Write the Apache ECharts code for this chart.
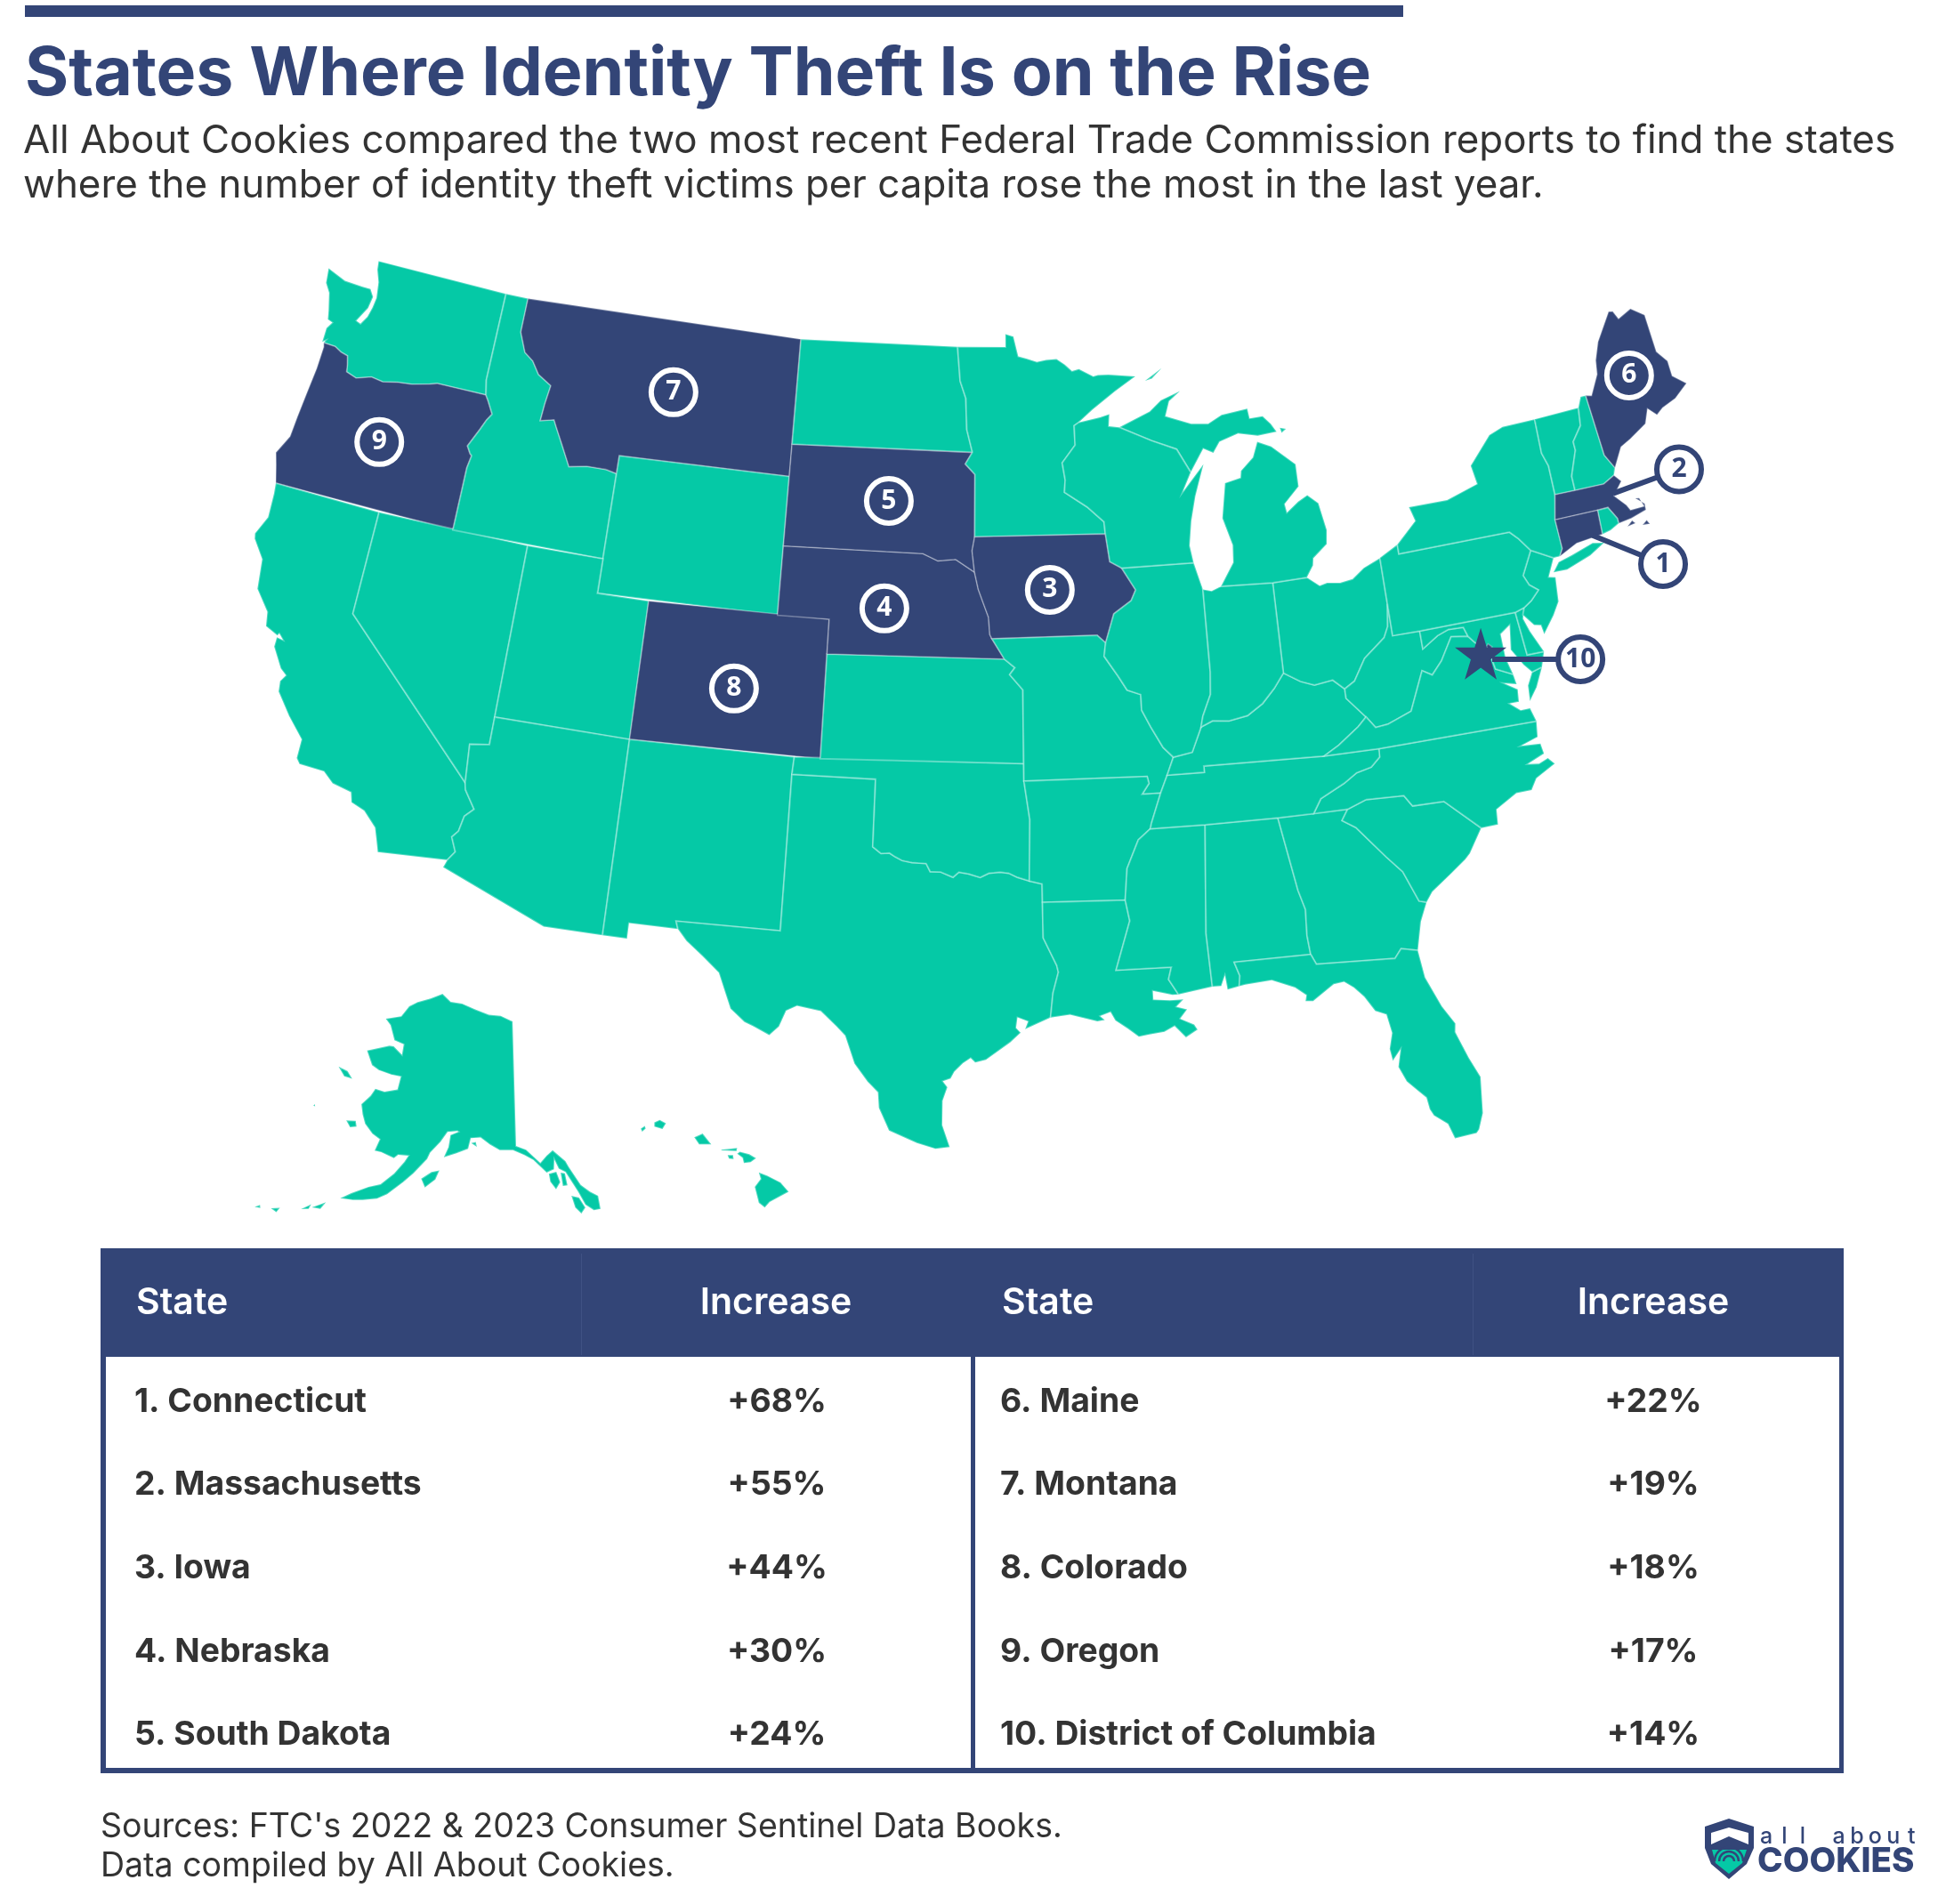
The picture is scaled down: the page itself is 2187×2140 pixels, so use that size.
<!DOCTYPE html>
<html lang="en">
<head>
<meta charset="utf-8">
<title>States Where Identity Theft Is on the Rise</title>
<script src="https://cdn.jsdelivr.net/npm/echarts@6/dist/echarts.min.js"></script>
<style>
html, body { margin: 0; padding: 0; background: #fff; }
#main { width: 2187px; height: 2140px; }
</style>
</head>
<body>
<div id="main"></div>
<script>
var NAVY = '#334577', TEAL = '#05c9a6', DARK = '#333333';

// table
var tableNames = ['Connecticut', 'Massachusetts', 'Iowa', 'Nebraska', 'South Dakota', 'Maine', 'Montana', 'Colorado', 'Oregon', 'District of Columbia'];
var tableIncrease = [68, 55, 44, 30, 24, 22, 19, 18, 17, 14];
var highlighted = ['Connecticut', 'Massachusetts', 'Iowa', 'Nebraska', 'South Dakota', 'Maine', 'Montana', 'Colorado', 'Oregon', 'District of Columbia'];

// numbered markers, [lon, lat, label]
var insideMarkers = [[-69.14, 45.52, '6'], [-109.22, 47.05, '7'], [-120.7, 43.95, '9'], [-99.94, 44.48, '5'], [-93.5, 41.96, '3'], [-99.94, 41.39, '4'], [-105.44, 38.8, '8']];
var outsideMarkers = [[-68.28, 42.52, '2'], [-69.9, 40.04, '1'], [-73.8, 38.0, '10']];
var leaderLines = [[[-68.28, 42.52], [-71.04, 42.37]], [[-69.9, 40.04], [-72.23, 41.36]], [[-73.8, 38.0], [-77.0, 38.54]]];
var dcStar = [-77.38, 38.76];

// shared borders, lon/lat
var colWaOr = [[-124.0, 46.27], [-123.5, 46.26], [-123.2, 46.15], [-122.9, 46.1], [-122.8, 45.85], [-122.75, 45.65], [-122.3, 45.55], [-121.7, 45.7], [-121.2, 45.65], [-120.6, 45.75], [-120.0, 45.8], [-119.3, 45.93], [-119.0, 46.0], [-116.92, 46.0]];
var snakeOrId = [[-116.92, 46.0], [-116.78, 45.85], [-116.5, 45.5], [-116.67, 45.3], [-116.85, 45.0], [-117.2, 44.45], [-117.03, 44.25], [-116.95, 44.2], [-117.03, 43.83], [-117.03, 42.0]];
var mtId = [[-116.05, 48.0], [-115.7, 47.45], [-115.3, 47.25], [-114.95, 46.9], [-114.35, 46.65], [-114.45, 46.1], [-114.5, 45.6], [-113.95, 45.7], [-113.8, 45.5], [-113.45, 45.05], [-113.0, 44.45], [-112.3, 44.55], [-111.5, 44.55], [-111.05, 44.48]];
var coloRiver = [[-114.63, 35.0], [-114.57, 34.8], [-114.14, 34.3], [-114.43, 34.05], [-114.53, 33.6], [-114.72, 33.4], [-114.5, 33.0], [-114.72, 32.72]];
var redRiver = [[-100, 34.56], [-99.7, 34.38], [-99.4, 34.4], [-99.2, 34.3], [-98.95, 34.2], [-98.6, 34.15], [-98.1, 34.13], [-97.95, 33.9], [-97.6, 33.9], [-97.15, 33.75], [-96.95, 33.9], [-96.6, 33.85], [-96.2, 33.75], [-95.9, 33.87], [-95.5, 33.9], [-95.2, 33.87], [-94.9, 33.75], [-94.48, 33.64]];
var sabine = [[-94.04, 32.0], [-93.6, 31.2], [-93.55, 31.0], [-93.75, 30.4], [-93.85, 29.7]];
var nebE = [[-96.45, 42.49], [-96.3, 42.0], [-96.1, 41.6], [-95.9, 41.2], [-95.85, 40.7], [-95.77, 40.58]];
var nebSd = [[-98.5, 43], [-97.9, 42.8], [-97.2, 42.85], [-96.45, 42.49]];
var sdMn = [[-96.56, 45.94], [-96.85, 45.6], [-96.45, 45.3], [-96.45, 43.5]];
var ndMn = [[-97.23, 49], [-97.1, 48.0], [-96.85, 47.5], [-96.8, 46.6], [-96.56, 45.94]];
var upperMiss = [[-91.22, 43.5], [-91.1, 42.7], [-90.65, 42.5]];
var ilIa = [[-90.65, 42.5], [-90.15, 41.85], [-90.35, 41.55], [-91.05, 41.2], [-91.42, 40.38]];
var ilMo = [[-91.42, 40.38], [-91.5, 40.0], [-91.0, 39.4], [-90.7, 39.0], [-90.2, 38.85], [-90.2, 38.4], [-89.9, 37.9], [-89.5, 37.3], [-89.15, 37.0]];
var ohioRiv = [[-82.6, 38.42], [-83.0, 38.72], [-83.7, 38.65], [-84.2, 38.8], [-84.8, 39.1], [-85.2, 38.7], [-85.7, 38.3], [-86.3, 38.0], [-87.0, 37.9], [-87.6, 37.95], [-88.05, 37.8], [-88.45, 37.1], [-89.15, 37.0]];
var ohWv = [[-80.52, 40.64], [-80.65, 40.0], [-80.85, 39.7], [-81.7, 39.2], [-82.2, 38.6], [-82.6, 38.42]];
var wvVa = [[-77.72, 39.32], [-78.35, 39.4], [-78.87, 38.77], [-79.3, 38.42], [-79.65, 38.59], [-80.3, 37.5], [-81.22, 37.24], [-81.68, 37.2], [-81.97, 37.54]];
var kyVa = [[-81.97, 37.54], [-82.3, 37.3], [-83.1, 36.85], [-83.68, 36.6]];
var kyWv = [[-81.97, 37.54], [-82.6, 38.15], [-82.6, 38.42]];
var mdWv = [[-79.48, 39.2], [-78.85, 39.5], [-78.4, 39.62], [-77.83, 39.6], [-77.72, 39.32]];
var potomac = [[-77.72, 39.32], [-77.5, 39.1], [-77.04, 38.85], [-77.04, 38.7], [-76.95, 38.25], [-76.35, 38.0]];
var tnNc = [[-84.32, 35], [-84, 35.4], [-83.1, 35.75], [-82.6, 36.0], [-82.05, 36.1], [-81.7, 36.35], [-81.68, 36.59]];
var gaSc = [[-83.1, 35], [-83.35, 34.7], [-82.9, 34.45], [-82.0, 33.5], [-81.5, 33.0], [-81.1, 32.1], [-80.85, 32.03]];
var ncSc = [[-83.1, 35], [-82.4, 35.2], [-81.05, 35.15], [-80.8, 34.82], [-79.68, 34.8], [-78.55, 33.86]];
var gaFlE = [[-84.85, 30.7], [-82.2, 30.57], [-81.95, 30.82], [-81.4, 30.7]];
var alGa = [[-85.6, 35], [-85.18, 32.87], [-85.0, 32.3], [-85.05, 31.55], [-85.0, 31.0]];
var msAl = [[-88.2, 35], [-88.47, 31.9], [-88.4, 30.35]];
var msLa = [[-91.6, 31.0], [-89.73, 31.0], [-89.85, 30.65], [-89.55, 30.2]];
var paNj = [[-74.7, 41.36], [-75.2, 40.7], [-75.05, 40.4], [-74.75, 40.2], [-75.1, 39.95], [-75.42, 39.8]];
var nyPa = [[-75.35, 42.0], [-75.05, 41.75], [-74.7, 41.36]];
var vtNh = [[-71.5, 45.01], [-71.6, 44.5], [-72.05, 44.1], [-72.05, 43.85], [-72.45, 43.15], [-72.46, 42.73]];
var nyVt = [[-73.35, 45], [-73.4, 44.0], [-73.25, 43.6], [-73.27, 42.75]];
var nhMe = [[-71.08, 45.3], [-70.98, 43.5], [-70.7, 43.07]];
var wiMi = [[-90.42, 46.55], [-89.1, 46.1], [-88.1, 45.8], [-87.6, 45.1]];
var mnWi = [[-92.3, 46.66], [-92.29, 46.1], [-92.85, 45.6], [-92.75, 45.1], [-92.8, 44.75], [-91.9, 44.3], [-91.25, 43.85], [-91.22, 43.5]];
var ilIn = [[-87.53, 41.72], [-87.53, 39.35], [-87.6, 38.7], [-87.95, 38.1], [-88.05, 37.8]];
var alaskaMain = [[-141, 69.65], [-141, 60.3], [-139.5, 60.0], [-137.5, 58.95], [-136.5, 59.45], [-135.5, 59.8], [-133.8, 58.9], [-133.4, 58.4], [-132.1, 57], [-131.0, 56.4], [-130.0, 56.0], [-130.0, 55.0], [-130.9, 55.0], [-131.9, 55.5], [-132.6, 56.5], [-134.0, 58.1], [-134.9, 58.4], [-135.4, 59.1], [-135.6, 58.4], [-136.7, 58.2], [-138.5, 59.2], [-139.8, 59.6], [-141.5, 60.0], [-143.5, 60.0], [-145, 60.4], [-146.5, 60.9], [-148, 60.8], [-148.3, 60.0], [-150, 59.6], [-151.8, 59.2], [-151.3, 60.0], [-151.2, 60.9], [-150, 61.2], [-150.2, 61.25], [-151.7, 61.1], [-152.6, 60.3], [-153.9, 59.4], [-154.2, 58.9], [-155.8, 57.7], [-157, 56.9], [-158.8, 55.8], [-160, 55.3], [-161.8, 54.95], [-163, 54.75], [-164.7, 54.6], [-163.5, 55.2], [-161.5, 56.0], [-160, 56.4], [-158.5, 57.4], [-157.4, 58.4], [-157, 58.9], [-158.5, 58.8], [-159, 58.5], [-161, 58.7], [-162, 58.7], [-161.7, 59.6], [-163, 59.85], [-164.5, 60.4], [-165.3, 61], [-166, 61.7], [-165, 62.5], [-164.6, 63.1], [-163, 63.1], [-161, 63.5], [-161, 64.5], [-162.7, 64.45], [-165, 64.5], [-166.4, 64.7], [-168.1, 65.6], [-164.5, 66.5], [-163.7, 66.55], [-161.8, 66.1], [-162, 66.9], [-163.9, 67.0], [-165.5, 68], [-166.8, 68.35], [-164, 68.9], [-163, 69.8], [-161.5, 70.3], [-159, 70.8], [-156.6, 71.35], [-154.5, 70.85], [-152, 70.85], [-149, 70.5], [-146, 70.15], [-143.5, 70.1]];
var alaskaIslands = [
    [[-133.6, 56.3], [-132.6, 56.1], [-131.95, 55.3], [-132.6, 54.9], [-133.3, 55.4]],
    [[-136.4, 58.1], [-135.3, 58.2], [-134.9, 57.4], [-135.6, 56.9], [-136.3, 57.5]],
    [[-134.7, 58.1], [-134.1, 58.0], [-133.95, 57.1], [-134.6, 57.1]],
    [[-154.6, 57.4], [-153.3, 58.0], [-152.2, 58.2], [-152.6, 57.5], [-153.9, 56.8]],
    [[-171.7, 63.7], [-170, 63.65], [-168.8, 63.25], [-170.2, 63.2]],
    [[-167.4, 60.2], [-166, 60.4], [-165.6, 60], [-166.5, 59.8]],
    [[-167.8, 53.3], [-166.3, 54], [-166.7, 53.4]],
    [[-169, 52.9], [-168, 53.5], [-168.1, 53.1]],
    [[-172.5, 52.1], [-171.5, 52.4], [-171.7, 52]],
    [[-174.4, 51.7], [-173.9, 52], [-173.7, 51.8]],
    [[-172.8, 60.45], [-172.6, 60.3], [-172.9, 60.3]],
    [[-147.9, 60.45], [-147.2, 60.55], [-147.0, 60.2]]
];
var hawaiiIslands = [
    [[-159.75, 22.13], [-159.55, 22.23], [-159.32, 22.1], [-159.45, 21.88], [-159.75, 21.97]],
    [[-160.25, 21.9], [-160.1, 22.0], [-160.07, 21.9], [-160.2, 21.78]],
    [[-158.28, 21.57], [-157.97, 21.71], [-157.65, 21.3], [-158.1, 21.3]],
    [[-157.3, 21.1], [-156.7, 21.17], [-156.72, 21.05], [-157.25, 21.08]],
    [[-157.05, 20.9], [-156.85, 20.9], [-156.83, 20.75], [-157, 20.77]],
    [[-156.7, 20.95], [-156.6, 21.03], [-156.25, 20.93], [-156, 20.78], [-156.2, 20.63], [-156.45, 20.6], [-156.5, 20.8]],
    [[-155.9, 20.25], [-155.6, 20.13], [-155.1, 19.87], [-154.8, 19.52], [-155.5, 19.13], [-155.68, 18.92], [-155.9, 19.1], [-156.05, 19.7], [-155.83, 20]]
];

function rev(a) { return a.slice().reverse(); }

var stateRings = {
    'Washington': [[[-124.73, 48.38], [-123.9, 48.17], [-123.1, 48.15], [-122.75, 48.15], [-122.55, 47.95], [-122.62, 47.6], [-122.95, 47.15], [-122.75, 47.1], [-122.55, 47.35], [-122.45, 47.65], [-122.4, 47.95], [-122.5, 48.4], [-122.7, 48.75], [-122.75, 49.0], [-117.03, 49], [-117.04, 46.42]].concat(rev(colWaOr), [[-123.95, 46.35], [-124.07, 46.28], [-124.07, 46.7], [-123.9, 46.9], [-124.12, 46.95], [-124.2, 47.2], [-124.4, 47.7], [-124.65, 47.95]])],
    'Oregon': [colWaOr.concat(snakeOrId, [[-124.2, 42], [-124.4, 42.5], [-124.55, 42.84], [-124.2, 43.4], [-124.15, 44], [-124.07, 44.7], [-123.97, 45.5], [-123.95, 46.15]])],
    'California': [[[-124.2, 42], [-120, 42], [-120, 39]].concat(coloRiver, [[-117.12, 32.53], [-117.25, 32.85], [-117.4, 33.2], [-117.9, 33.6], [-118.4, 33.75], [-118.5, 34.03], [-119.2, 34.15], [-119.6, 34.42], [-120.5, 34.45], [-120.65, 34.6], [-120.65, 35.15], [-121.3, 35.7], [-121.9, 36.3], [-121.95, 36.6], [-121.8, 36.8], [-122.05, 36.95], [-122.5, 37.5], [-122.5, 37.78], [-122.25, 37.75], [-122.45, 37.9], [-122.5, 37.83], [-123.0, 38.0], [-123.1, 38.4], [-123.7, 38.95], [-123.85, 39.8], [-124.35, 40.3], [-124.4, 40.45], [-124.1, 41.0], [-124.15, 41.7]])],
    'Nevada': [[[-120, 42], [-114.04, 42], [-114.04, 37], [-114.04, 36.2], [-114.74, 36.1], [-114.63, 35.0], [-120, 39]]],
    'Idaho': [[[-117.03, 49], [-116.05, 49]].concat(mtId, [[-111.05, 42], [-117.03, 42]], rev(snakeOrId), [[-117.04, 46.42]])],
    'Montana': [[[-116.05, 49], [-104.05, 49], [-104.05, 45], [-111.05, 45]].concat(rev(mtId))],
    'Wyoming': [[[-111.05, 45], [-104.05, 45], [-104.05, 41], [-111.05, 41]]],
    'Utah': [[[-114.04, 42], [-111.05, 42], [-111.05, 41], [-109.05, 41], [-109.05, 37], [-114.04, 37]]],
    'Arizona': [[[-114.04, 37], [-109.05, 37], [-109.05, 31.33], [-111.07, 31.33], [-114.81, 32.5]].concat(rev(coloRiver), [[-114.74, 36.1], [-114.04, 36.2]])],
    'Colorado': [[[-109.05, 41], [-102.05, 41], [-102.05, 37], [-109.05, 37]]],
    'New Mexico': [[[-109.05, 37], [-103, 37], [-103.04, 36.5], [-103.04, 32], [-106.62, 32], [-106.53, 31.78], [-108.21, 31.78], [-108.21, 31.33], [-109.05, 31.33]]],
    'Texas': [[[-103.04, 36.5], [-100, 36.5]].concat(redRiver, [[-94.04, 33.55], [-94.04, 33.02]], sabine, [[-94.7, 29.38], [-94.6, 29.6], [-94.95, 29.72], [-95.0, 29.42], [-94.85, 29.28], [-95.2, 29], [-96, 28.5], [-96.35, 28.42], [-96.5, 28.55], [-96.75, 28.4], [-97.03, 28.15], [-97.15, 27.95], [-97.4, 27.87], [-97.25, 27.7], [-97.4, 27.3], [-97.4, 26.6], [-97.15, 25.96], [-97.6, 25.9], [-98.2, 26.06], [-99.1, 26.4], [-99.45, 27.05], [-99.5, 27.5], [-99.85, 27.8], [-100.3, 28.3], [-100.65, 29.1], [-100.95, 29.35], [-101.5, 29.77], [-102.3, 29.88], [-102.65, 29.72], [-102.85, 29.25], [-103.15, 28.98], [-103.7, 29.2], [-104.0, 29.3], [-104.5, 29.65], [-104.7, 30.05], [-105.0, 30.65], [-105.6, 31.08], [-106.2, 31.47], [-106.53, 31.78], [-106.62, 32], [-103.04, 32]])],
    'Oklahoma': [[[-103, 37], [-94.62, 37], [-94.62, 36.5], [-94.43, 35.4]].concat(rev(redRiver), [[-100, 36.5], [-103.04, 36.5]])],
    'Kansas': [[[-102.05, 40], [-95.3, 40], [-94.9, 39.75], [-95.1, 39.55], [-94.61, 39.11], [-94.62, 37], [-102.05, 37]]],
    'Nebraska': [[[-104.05, 43]].concat(nebSd, nebE, [[-95.3, 40], [-102.05, 40], [-102.05, 41], [-104.05, 41]])],
    'South Dakota': [[[-104.05, 45.94]].concat(sdMn, [[-96.55, 43.1]], rev(nebSd), [[-104.05, 43]])],
    'North Dakota': [[[-104.05, 49]].concat(ndMn, [[-104.05, 45.94]])],
    'Minnesota': [[[-97.23, 49], [-95.15, 49], [-95.15, 49.38], [-94.8, 49.3], [-94.6, 48.72], [-94.25, 48.65], [-93.8, 48.55], [-93.4, 48.6], [-92.95, 48.62], [-92.6, 48.45], [-92.3, 48.25], [-92.0, 48.3], [-91.4, 48.07], [-91.2, 48.1], [-90.75, 48.1], [-89.6, 48.0], [-90.5, 47.6], [-91.5, 47.1], [-92.1, 46.75]].concat(mnWi, rev(sdMn), rev(ndMn).slice(0, -1))],
    'Iowa': [[[-96.45, 43.5]].concat(upperMiss, ilIa, [[-91.73, 40.61]], rev(nebE), [[-96.55, 43.1]])],
    'Missouri': [[[-95.77, 40.58], [-91.73, 40.61]].concat(ilMo, [[-89.42, 36.5], [-89.7, 36.0], [-90.37, 36.0], [-90.1, 36.3], [-90.15, 36.5], [-94.62, 36.5], [-94.62, 37], [-94.61, 39.11], [-95.1, 39.55], [-94.9, 39.75], [-95.3, 40]])],
    'Arkansas': [[[-94.62, 36.5], [-90.15, 36.5], [-90.1, 36.3], [-90.37, 36.0], [-89.7, 36.0], [-90.1, 35.15], [-90.15, 35.0], [-90.6, 34.7], [-91.05, 33.9], [-91.17, 33.0], [-94.04, 33.02], [-94.04, 33.55], [-94.48, 33.64], [-94.43, 35.4]]],
    'Louisiana': [[[-94.04, 33.02], [-91.17, 33.0], [-91.05, 32.4]].concat(msLa, [[-89.75, 30.2], [-90.4, 30.35], [-90.4, 30.1], [-89.85, 30.05], [-89.4, 30.05], [-89.65, 29.85], [-89.3, 29.75], [-89.55, 29.5], [-89.1, 29.3], [-89.0, 29.15], [-89.4, 28.95], [-89.75, 29.3], [-90.1, 29.15], [-90.6, 29.1], [-90.95, 29.05], [-91.3, 29.3], [-91.7, 29.55], [-91.85, 29.8], [-92.2, 29.7], [-92.05, 29.58], [-92.3, 29.55], [-93.2, 29.77], [-93.85, 29.7]], rev(sabine))],
    'Mississippi': [[[-90.15, 35.0]].concat(msAl, [[-89.55, 30.2], [-89.85, 30.65], [-89.73, 31.0], [-91.6, 31.0], [-91.05, 32.4], [-91.17, 33.0], [-91.05, 33.9], [-90.6, 34.7]])],
    'Alabama': [msAl.concat([[-88.1, 30.35], [-87.95, 30.65], [-87.9, 30.23], [-87.5, 30.3], [-87.45, 30.6], [-87.6, 31]], rev(alGa))],
    'Georgia': [alGa.concat([[-84.85, 30.7]], gaFlE.slice(1), [[-81.15, 31.5]], rev(gaSc))],
    'Florida': [[[-87.6, 31], [-85, 31]].concat(gaFlE, [[-81.3, 29.9], [-80.9, 29.0], [-80.55, 28.45], [-80.6, 28.2], [-80.3, 27.4], [-80.03, 26.8], [-80.15, 25.75], [-80.35, 25.3], [-80.45, 25.2], [-81.15, 25.15], [-81.3, 25.6], [-81.7, 25.9], [-81.8, 26.1], [-81.85, 26.45], [-82.1, 26.7], [-82.4, 27.0], [-82.6, 27.45], [-82.45, 27.95], [-82.75, 27.65], [-82.8, 28.0], [-82.65, 28.45], [-82.75, 29.0], [-83.1, 29.15], [-83.4, 29.6], [-83.7, 29.9], [-84.0, 30.1], [-84.35, 30.07], [-85.1, 29.65], [-85.35, 29.68], [-85.3, 29.85], [-85.65, 30.1], [-86.4, 30.38], [-87.3, 30.33], [-87.5, 30.3], [-87.45, 30.6]])],
    'South Carolina': [ncSc.concat([[-79.1, 33.2], [-79.3, 33.05], [-79.9, 32.7], [-80.6, 32.3]], rev(gaSc))],
    'North Carolina': [[[-84.32, 35]].concat(ncSc, [[-77.95, 33.87], [-77.9, 34.3], [-77.1, 34.65], [-76.55, 34.65], [-76.3, 34.95], [-75.55, 35.25], [-75.75, 35.45], [-76.1, 35.35], [-76.5, 35.4], [-75.85, 35.6], [-75.9, 35.9], [-76.6, 35.95], [-75.95, 36.1], [-75.87, 36.55]], rev(tnNc))],
    'Tennessee': [[[-90.15, 35], [-88.2, 35], [-85.6, 35]].concat(tnNc, [[-83.68, 36.6], [-88.07, 36.68], [-88.07, 36.5], [-89.42, 36.5], [-89.7, 36.0], [-90.1, 35.15]])],
    'Kentucky': [[[-89.42, 36.5], [-88.07, 36.5], [-88.07, 36.68], [-83.68, 36.6]].concat(rev(kyVa), kyWv, ohioRiv.slice(1))],
    'Ohio': [[[-84.8, 39.1], [-84.8, 41.7], [-83.45, 41.73], [-83.0, 41.45], [-82.7, 41.5], [-82.2, 41.45], [-81.7, 41.5], [-81.2, 41.77], [-80.52, 41.97]].concat(ohWv, ohioRiv.slice(1, 4))],
    'West Virginia': [[[-80.52, 40.64], [-80.52, 39.72], [-79.48, 39.72]].concat(mdWv, wvVa.slice(1), kyWv.slice(1), rev(ohWv).slice(1, -1))],
    'Virginia': [
        [[-83.68, 36.6], [-81.68, 36.59], [-75.87, 36.55], [-76.0, 36.95], [-76.35, 36.95], [-76.7, 37.2], [-76.35, 37.2], [-76.3, 37.55], [-76.75, 37.8], [-76.3, 37.7], [-76.35, 38.0]].concat(rev(potomac).slice(1), wvVa.slice(1), kyVa.slice(1, -1)),
        [[-75.95, 37.15], [-75.6, 37.5], [-75.25, 38.03], [-75.65, 37.95], [-75.9, 37.6]]
    ],
    'Maryland': [
        [[-79.48, 39.72], [-75.79, 39.72], [-75.69, 38.46], [-75.05, 38.45], [-75.25, 38.03], [-75.65, 37.95], [-75.9, 38.2], [-76.25, 38.7], [-76.1, 39.4], [-76.5, 39.2], [-76.5, 38.5], [-76.35, 38.0]].concat(rev(potomac).slice(1), rev(mdWv).slice(1))
    ],
    'Delaware': [[[-75.79, 39.72], [-75.42, 39.8], [-75.55, 39.5], [-75.4, 39.1], [-75.05, 38.45], [-75.69, 38.46]]],
    'District of Columbia': [[[-77.12, 38.93], [-77.04, 39.0], [-76.91, 38.89], [-77.04, 38.79]]],
    'New Jersey': [[[-74.7, 41.36], [-73.9, 41.0], [-74.25, 40.5], [-74.0, 40.45], [-74.1, 39.75], [-74.4, 39.4], [-74.9, 38.93], [-74.95, 39.2], [-75.2, 39.25], [-75.53, 39.6]].concat(rev(paNj))],
    'Pennsylvania': [[[-80.52, 41.98], [-79.76, 42.27], [-79.76, 42.0]].concat(nyPa, paNj.slice(1), [[-75.79, 39.72], [-79.48, 39.72], [-80.52, 39.72], [-80.52, 40.64]])],
    'New York': [
        [[-79.76, 42.0], [-79.76, 42.27], [-78.9, 42.85], [-79.05, 43.27], [-77.5, 43.27], [-76.2, 43.55], [-76.3, 44.1], [-75.3, 44.85], [-74.7, 45.0]].concat(nyVt, [[-73.5, 42.05], [-73.49, 41.2], [-73.65, 41.0], [-73.9, 41.0], [-74.7, 41.36], [-75.05, 41.75], [-75.35, 42.0]]),
        [[-74.03, 40.6], [-73.75, 40.85], [-73.2, 40.95], [-72.3, 41.15], [-71.87, 41.07], [-72.5, 40.82], [-73.5, 40.58]]
    ],
    'Vermont': [nyVt.concat(rev(vtNh))],
    'New Hampshire': [[[-71.5, 45.01], [-71.3, 45.3]].concat(nhMe, [[-70.82, 42.87], [-71.3, 42.7]], rev(vtNh))],
    'Maine': [[[-71.08, 45.3], [-70.85, 45.25], [-70.4, 45.8], [-70.3, 46.2], [-70.0, 46.7], [-69.22, 47.46], [-69.05, 47.43], [-68.9, 47.18], [-68.3, 47.36], [-67.8, 47.07], [-67.78, 45.95], [-67.45, 45.6], [-67.45, 45.15], [-66.98, 44.82], [-67.6, 44.5], [-68.2, 44.35], [-68.5, 44.2], [-68.8, 44.45], [-69.05, 44.05], [-69.8, 43.75], [-70.25, 43.6], [-70.7, 43.07], [-70.98, 43.5]]],
    'Massachusetts': [
        [[-73.5, 42.05], [-73.27, 42.75], [-72.46, 42.73], [-71.3, 42.7], [-70.82, 42.87], [-70.6, 42.65], [-71.03, 42.3], [-70.65, 41.95], [-70.55, 41.78], [-70.0, 41.78], [-70.1, 42.05], [-70.25, 42.07], [-69.95, 41.85], [-69.97, 41.67], [-70.6, 41.55], [-71.13, 41.5], [-71.13, 41.65], [-71.38, 42.02], [-71.8, 42.02]],
        [[-70.83, 41.35], [-70.5, 41.38], [-70.6, 41.48]],
        [[-70.25, 41.28], [-69.97, 41.25], [-70.05, 41.38]]
    ],
    'Rhode Island': [[[-71.8, 42.02], [-71.38, 42.02], [-71.13, 41.65], [-71.13, 41.5], [-71.5, 41.37], [-71.85, 41.32]]],
    'Connecticut': [[[-73.5, 42.05], [-71.8, 42.02], [-71.85, 41.32], [-72.9, 41.25], [-73.65, 41.0], [-73.49, 41.2]]],
    'Illinois': [[[-91.42, 40.38]].concat(rev(ilIa), [[-87.8, 42.5], [-87.53, 41.72]], ilIn.slice(1), [[-88.45, 37.1]], rev(ilMo).slice(0, -1))],
    'Indiana': [[[-87.53, 41.72], [-87.2, 41.65], [-86.82, 41.76], [-84.8, 41.7], [-84.8, 39.1], [-85.2, 38.7], [-85.7, 38.3], [-86.3, 38.0], [-87.0, 37.9], [-87.6, 37.95], [-88.05, 37.8], [-87.95, 38.1], [-87.6, 38.7], [-87.53, 39.35]]],
    'Michigan': [
        [[-86.82, 41.76], [-84.8, 41.7], [-83.45, 41.73], [-83.15, 42.05], [-83.1, 42.25], [-82.5, 42.6], [-82.42, 43.0], [-82.6, 43.8], [-83.0, 44.07], [-83.4, 43.92], [-83.9, 43.65], [-83.95, 43.9], [-83.3, 44.35], [-83.3, 45.0], [-84.2, 45.6], [-84.75, 45.78], [-85.0, 45.35], [-85.55, 45.0], [-85.6, 44.8], [-86.25, 44.7], [-86.5, 43.7], [-86.2, 42.9], [-86.25, 42.4]],
        [[-90.42, 46.55], [-89.1, 46.95], [-88.6, 47.25], [-87.75, 47.47], [-88.25, 47.2], [-88.45, 46.78], [-87.4, 46.5], [-86.7, 46.45], [-86.1, 46.67], [-85.0, 46.77], [-84.95, 46.48], [-84.4, 46.5], [-84.1, 46.25], [-83.9, 46.0], [-84.7, 45.95], [-85.5, 46.08], [-86.3, 45.9], [-86.6, 45.6], [-87.0, 45.75], [-87.6, 45.1], [-88.1, 45.8], [-89.1, 46.1]],
        [[-89.2, 47.85], [-88.45, 48.18], [-88.9, 47.9]],
        [[-83.75, 46.1], [-83.5, 46.05], [-83.7, 45.95]]
    ],
    'Wisconsin': [[[-92.1, 46.75], [-91.2, 46.87], [-90.8, 46.95], [-90.85, 46.6]].concat(wiMi, [[-88.0, 44.55], [-87.05, 45.3], [-87.5, 44.4], [-87.75, 43.7], [-87.9, 43.0], [-87.8, 42.5], [-90.65, 42.5], [-91.1, 42.7], [-91.22, 43.5]], rev(mnWi))],
    'Alaska': [alaskaMain].concat(alaskaIslands),
    'Hawaii': hawaiiIslands
};

// Albers conic helper
var DEG = Math.PI / 180;
function conic(p1, p2, lat0) {
    var n = (Math.sin(p1 * DEG) + Math.sin(p2 * DEG)) / 2;
    var C = Math.pow(Math.cos(p1 * DEG), 2) + 2 * n * Math.sin(p1 * DEG);
    var rho = function (lat) { return Math.sqrt(C - 2 * n * Math.sin(lat * DEG)) / n; };
    return { n: n, C: C, rho: rho, rho0: rho(lat0) };
}
var lower48 = conic(29.5, 45.5, 37.5);
var akConic = conic(45, 65, 60.3);
var MAIN = { lon0: -96, x0: 1108, y0: 839, R: 2230 };
var AK = { lon0: -143, x0: 580, y0: 1288, R: 860 };
var HI = { x0: 865, y0: 1337, sx: 30.5, sy: 29.8 };

function conicPoint(c, p, lon, lat) {
    var t = c.n * (lon - p.lon0) * DEG, r = c.rho(lat);
    return [p.x0 + p.R * r * Math.sin(t), p.y0 - p.R * (c.rho0 - r * Math.cos(t))];
}
function project(pt) {
    var lon = pt[0], lat = pt[1];
    if (lon < -129.9 && lat > 50) {
        var a = conicPoint(akConic, AK, lon, lat), b = conicPoint(akConic, AK, -141, 60.3);
        return [a[0] - b[0] + AK.x0, a[1] - b[1] + AK.y0];
    }
    if (lon < -150 && lat < 30) return [HI.x0 + (lon + 155.5) * HI.sx, HI.y0 - (lat - 19.6) * HI.sy];
    return conicPoint(lower48, MAIN, lon, lat);
}
function unproject(p) {
    var X = (p[0] - MAIN.x0) / MAIN.R, Y = lower48.rho0 - (MAIN.y0 - p[1]) / MAIN.R;
    var r = Math.sqrt(X * X + Y * Y) * lower48.n;
    return [MAIN.lon0 + Math.atan2(X, Y) / lower48.n / DEG, Math.asin((lower48.C - r * r) / (2 * lower48.n)) / DEG];
}

var features = [], minX = 1e9, minY = 1e9, maxX = -1e9, maxY = -1e9;
Object.keys(stateRings).forEach(function (name) {
    var polys = stateRings[name].map(function (ring) {
        ring.forEach(function (q) {
            var s = project(q);
            minX = Math.min(minX, s[0]); maxX = Math.max(maxX, s[0]);
            minY = Math.min(minY, s[1]); maxY = Math.max(maxY, s[1]);
        });
        return [ring.concat([ring[0]])];
    });
    features.push({ type: 'Feature', properties: { name: name }, geometry: { type: 'MultiPolygon', coordinates: polys } });
});
echarts.registerMap('usa', { type: 'FeatureCollection', features: features });

// page furniture
var graphics = [];
function text(x, y, s, size, weight, color, align) {
    graphics.push({ type: 'text', x: x, y: y, silent: true, style: {
        text: s, fontFamily: 'Inter', fontSize: size, fontWeight: weight, fill: color, align: align || 'left', verticalAlign: 'middle'
    } });
}
function rect(x, y, w, h, color) {
    graphics.push({ type: 'rect', silent: true, shape: { x: x, y: y, width: w, height: h }, style: { fill: color } });
}
rect(28, 6, 1549, 13, NAVY);
text(28, 84, 'States Where Identity Theft Is on the Rise', 75.2, 700, NAVY);
text(26, 159, 'All About Cookies compared the two most recent Federal Trade Commission reports to find the states', 43.9, 400, DARK);
text(26, 209, 'where the number of identity theft victims per capita rose the most in the last year.', 43.9, 400, DARK);

rect(113, 1403, 1959, 122, NAVY);
rect(113, 1403, 6, 590, NAVY);
rect(2067, 1403, 5, 590, NAVY);
rect(1091, 1403, 5, 590, NAVY);
rect(113, 1987, 1959, 6, NAVY);
rect(653, 1409, 1, 114, '#3f5183');
rect(1655, 1409, 1, 114, '#3f5183');

var rowY = [1576, 1669, 1763, 1857, 1950];
text(153, 1465, 'State', 41, 600, '#fff');
text(872, 1465, 'Increase', 41, 600, '#fff', 'center');
text(1126, 1465, 'State', 41, 600, '#fff');
text(1858, 1465, 'Increase', 41, 600, '#fff', 'center');
tableNames.forEach(function (name, i) {
    var right = i >= 5;
    text(right ? 1124 : 151, rowY[i % 5], (i + 1) + '. ' + name, 37.3, 700, DARK);
    text(right ? 1858 : 873, rowY[i % 5], '+' + tableIncrease[i] + '%', 37.3, 700, DARK, 'center');
});
text(113, 2054, "Sources: FTC's 2022 & 2023 Consumer Sentinel Data Books.", 37.5, 400, DARK);
text(113, 2098, 'Data compiled by All About Cookies.', 37.5, 400, DARK);

// logo
graphics.push({ type: 'polygon', silent: true, shape: { points: [[1943, 2044], [1971, 2053], [1971, 2077], [1963, 2095], [1943, 2112], [1923, 2095], [1916, 2077], [1916, 2053]] }, style: { fill: NAVY } });
graphics.push({ type: 'polygon', silent: true, shape: { points: [[1923, 2060], [1943, 2054], [1965, 2060], [1965, 2073], [1943, 2064], [1923, 2073]] }, style: { fill: '#fff' } });
graphics.push({ type: 'polygon', silent: true, shape: { points: [[1924, 2079], [1963, 2079], [1958, 2094], [1943, 2106], [1928, 2094]] }, style: { fill: TEAL } });
[16, 11, 6].forEach(function (r) {
    graphics.push({ type: 'arc', silent: true, shape: { cx: 1943, cy: 2092, r: r, startAngle: Math.PI, endAngle: 2 * Math.PI }, style: { stroke: NAVY, lineWidth: 2.5, fill: null } });
});
'all about'.split('').forEach(function (ch, i) {
    text(1985 + i * 20.4, 2064, ch, 25, 500, NAVY, 'center');
});
text(1975, 2092, 'COOKIES', 38.5, 800, NAVY);

var option = {
    animation: false,
    graphic: graphics,
    geo: {
        map: 'usa',
        projection: { project: project, unproject: unproject },
        left: minX, top: minY, width: maxX - minX, height: maxY - minY,
        roam: false,
        silent: true,
        label: { show: false },
        itemStyle: { areaColor: TEAL, borderColor: 'rgba(255,255,255,0.3)', borderWidth: 2 },
        regions: highlighted.map(function (name) {
            return { name: name, itemStyle: { areaColor: NAVY, borderColor: 'rgba(255,255,255,0.3)', borderWidth: 1.6 } };
        })
    },
    series: [
        {
            type: 'lines', coordinateSystem: 'geo', polyline: false, silent: true, z: 3,
            lineStyle: { color: NAVY, width: 6, opacity: 1, curveness: 0 },
            data: leaderLines.map(function (l) { return { coords: l }; })
        },
        {
            type: 'scatter', coordinateSystem: 'geo', silent: true, z: 4,
            symbol: 'path://M50 0L61.8 35.8H100L69.1 58.2L80.9 95.1L50 73.2L19.1 95.1L30.9 58.2L0 35.8H38.2Z',
            symbolSize: 58,
            itemStyle: { color: NAVY, opacity: 1 },
            data: [dcStar]
        },
        {
            type: 'scatter', coordinateSystem: 'geo', silent: true, z: 5,
            symbolSize: 50,
            itemStyle: { color: NAVY, borderColor: '#fff', borderWidth: 6, opacity: 1 },
            label: { show: true, position: 'inside', color: '#fff', fontFamily: 'Open Sans', fontWeight: 700, fontSize: 30, formatter: function (p) { return p.value[2]; } },
            data: insideMarkers
        },
        {
            type: 'scatter', coordinateSystem: 'geo', silent: true, z: 5,
            symbolSize: 50,
            itemStyle: { color: '#fff', borderColor: NAVY, borderWidth: 6, opacity: 1 },
            label: { show: true, position: 'inside', color: NAVY, fontFamily: 'Open Sans', fontWeight: 700, fontSize: 30, formatter: function (p) { return p.value[2]; } },
            data: outsideMarkers
        }
    ]
};
echarts.init(document.getElementById('main')).setOption(option);
</script>
</body>
</html>
